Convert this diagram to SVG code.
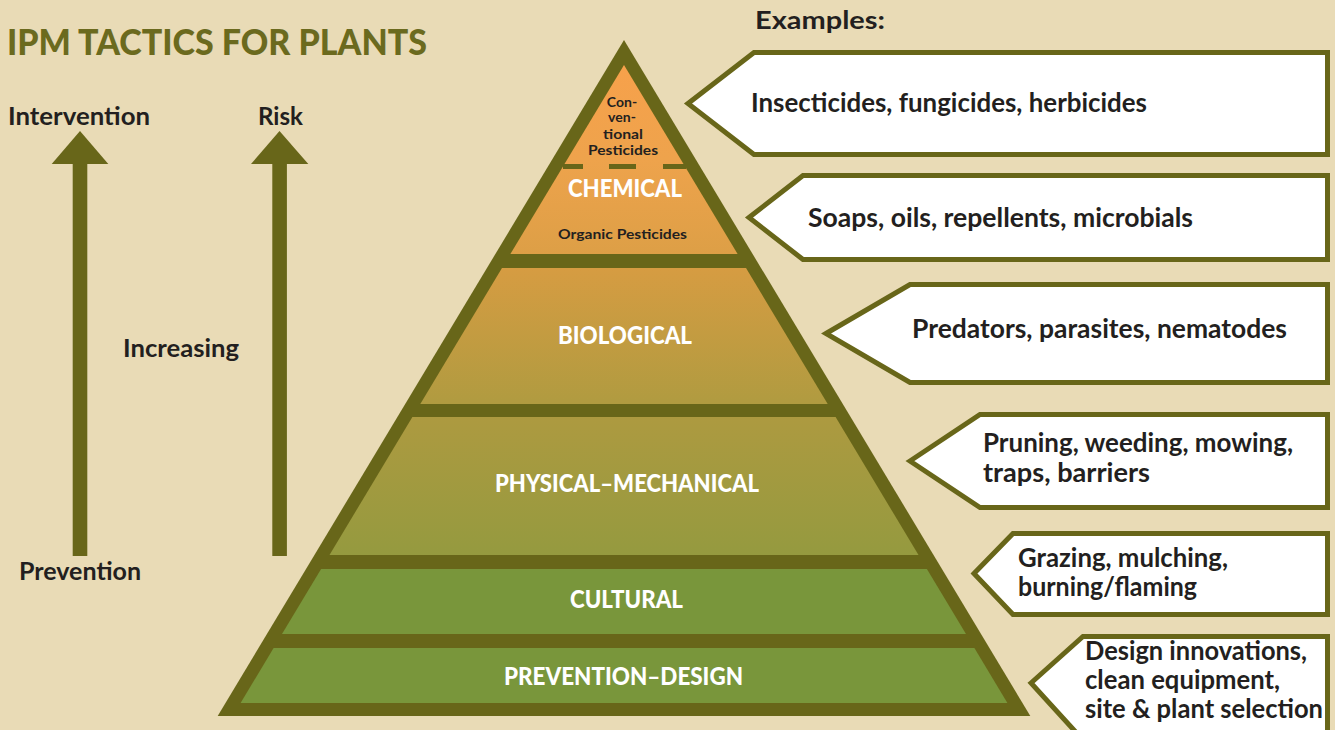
<svg xmlns="http://www.w3.org/2000/svg" width="1335" height="730" viewBox="0 0 1335 730">
<defs>
<linearGradient id="gOrange" x1="0" y1="65" x2="0" y2="254" gradientUnits="userSpaceOnUse"><stop offset="0" stop-color="#f7a14b"/><stop offset="0.5" stop-color="#eea34c"/><stop offset="1" stop-color="#dd9f46"/></linearGradient>
<linearGradient id="gBio" x1="0" y1="268" x2="0" y2="404" gradientUnits="userSpaceOnUse"><stop offset="0" stop-color="#d69c42"/><stop offset="1" stop-color="#b09b40"/></linearGradient>
<linearGradient id="gPhys" x1="0" y1="417" x2="0" y2="555" gradientUnits="userSpaceOnUse"><stop offset="0" stop-color="#ad9a40"/><stop offset="1" stop-color="#959a3f"/></linearGradient>
<style>
.bg{fill:#e9dbb6}
.dark{fill:#686619}
.callout{fill:#ffffff;stroke:#686619;stroke-width:5;stroke-linejoin:miter}
.t{font-family:Lato,"Liberation Sans",sans-serif;font-weight:bold;fill:#231f20}
.lbl{font-family:Lato,"Liberation Sans",sans-serif;font-weight:900;fill:#ffffff;font-size:25px}
.ex{font-size:26px}
.sm{font-size:14px}
.title{font-family:Lato,"Liberation Sans",sans-serif;font-weight:900;fill:#6b6a1e;font-size:36px}
</style>
</defs>
<rect class="bg" x="0" y="0" width="1335" height="730"/>

<g id="title">
<text class="title" x="7" y="55" textLength="420" lengthAdjust="spacingAndGlyphs">IPM TACTICS FOR PLANTS</text>
</g>

<g id="axis-labels">
<text class="t" x="8" y="125" font-size="24" textLength="142" lengthAdjust="spacingAndGlyphs">Intervention</text>
<text class="t" x="258" y="125" font-size="24" textLength="45" lengthAdjust="spacingAndGlyphs">Risk</text>
<text class="t" x="123" y="357" font-size="24" textLength="116" lengthAdjust="spacingAndGlyphs">Increasing</text>
<text class="t" x="19" y="580" font-size="24" textLength="122" lengthAdjust="spacingAndGlyphs">Prevention</text>
<text class="t" x="755" y="29" font-size="24" textLength="130" lengthAdjust="spacingAndGlyphs">Examples:</text>
</g>

<g id="connectors">
<polygon class="dark" points="80,131 108.3,164 51.7,164"/>
<rect class="dark" x="72.7" y="163" width="14.6" height="393"/>
<polygon class="dark" points="279.5,131 308.3,164 251,164"/>
<rect class="dark" x="272.3" y="163" width="14.6" height="393"/>
</g>

<g id="pyramid">
<polygon class="dark" points="624,40 1030.3,716 217.7,716"/>
</g>

<g id="layer-chemical">
<polygon fill="url(#gOrange)" points="624,65 737.6,254 510.4,254"/>
<rect class="dark" x="563" y="164" width="20" height="5"/>
<rect class="dark" x="609" y="164" width="27" height="5"/>
<rect class="dark" x="663" y="164" width="23" height="5"/>
<text class="t sm" x="622" y="107" text-anchor="middle">Con-</text>
<text class="t sm" x="622" y="122" text-anchor="middle">ven-</text>
<text class="t sm" x="623" y="139" text-anchor="middle" textLength="40" lengthAdjust="spacingAndGlyphs">tional</text>
<text class="t sm" x="588" y="155" textLength="70" lengthAdjust="spacingAndGlyphs">Pesticides</text>
<text class="lbl" x="568" y="197" textLength="114" lengthAdjust="spacingAndGlyphs">CHEMICAL</text>
<text class="t sm" x="558" y="239" textLength="129" lengthAdjust="spacingAndGlyphs">Organic Pesticides</text>
</g>

<g id="layer-biological">
<polygon fill="url(#gBio)" points="502,268 746,268 827.7,404 420.3,404"/>
<text class="lbl" x="558" y="344" textLength="134" lengthAdjust="spacingAndGlyphs">BIOLOGICAL</text>
</g>

<g id="layer-physical">
<polygon fill="url(#gPhys)" points="412.4,417 835.6,417 918.5,555 329.5,555"/>
<text class="lbl" x="495" y="492" textLength="264" lengthAdjust="spacingAndGlyphs">PHYSICAL–MECHANICAL</text>
</g>

<g id="layer-cultural">
<polygon fill="#79963b" points="321.1,569 926.9,569 966,634 282,634"/>
<text class="lbl" x="570" y="608" textLength="113" lengthAdjust="spacingAndGlyphs">CULTURAL</text>
</g>

<g id="layer-prevention">
<polygon fill="#79963b" points="273.6,648 974.4,648 1007.4,703 240.6,703"/>
<text class="lbl" x="504" y="685" textLength="239" lengthAdjust="spacingAndGlyphs">PREVENTION–DESIGN</text>
</g>

<g id="example-chemical-conventional">
<polygon class="callout" points="688,103.5 754,52.5 1327.5,52.5 1327.5,154.5 754,154.5"/>
<text class="t ex" x="751" y="112" textLength="396" lengthAdjust="spacingAndGlyphs">Insecticides, fungicides, herbicides</text>
</g>

<g id="example-chemical-organic">
<polygon class="callout" points="749,217.5 803,175.5 1327.5,175.5 1327.5,259.5 803,259.5"/>
<text class="t ex" x="808" y="227" textLength="385" lengthAdjust="spacingAndGlyphs">Soaps, oils, repellents, microbials</text>
</g>

<g id="example-biological">
<polygon class="callout" points="826,333.5 910,284.5 1327.5,284.5 1327.5,382.5 910,382.5"/>
<text class="t ex" x="912" y="338" textLength="375" lengthAdjust="spacingAndGlyphs">Predators, parasites, nematodes</text>
</g>

<g id="example-physical">
<polygon class="callout" points="910,461 980,414.5 1327.5,414.5 1327.5,507.5 980,507.5"/>
<text class="t ex" x="983" y="452" textLength="310" lengthAdjust="spacingAndGlyphs">Pruning, weeding, mowing,</text>
<text class="t ex" x="983" y="482" textLength="167" lengthAdjust="spacingAndGlyphs">traps, barriers</text>
</g>

<g id="example-cultural">
<polygon class="callout" points="974,573.5 1013,533.5 1327.5,533.5 1327.5,614.5 1013,614.5"/>
<text class="t ex" x="1018" y="567" textLength="210" lengthAdjust="spacingAndGlyphs">Grazing, mulching,</text>
<text class="t ex" x="1018" y="596" textLength="179" lengthAdjust="spacingAndGlyphs">burning/flaming</text>
</g>

<g id="example-prevention">
<polygon class="callout" points="1031,683 1083,636.5 1327.5,636.5 1327.5,740 1083,740"/>
<text class="t ex" x="1085" y="660" textLength="222" lengthAdjust="spacingAndGlyphs">Design innovations,</text>
<text class="t ex" x="1085" y="689" textLength="195" lengthAdjust="spacingAndGlyphs">clean equipment,</text>
<text class="t ex" x="1085" y="718" textLength="238" lengthAdjust="spacingAndGlyphs">site &amp; plant selection</text>
</g>
</svg>
